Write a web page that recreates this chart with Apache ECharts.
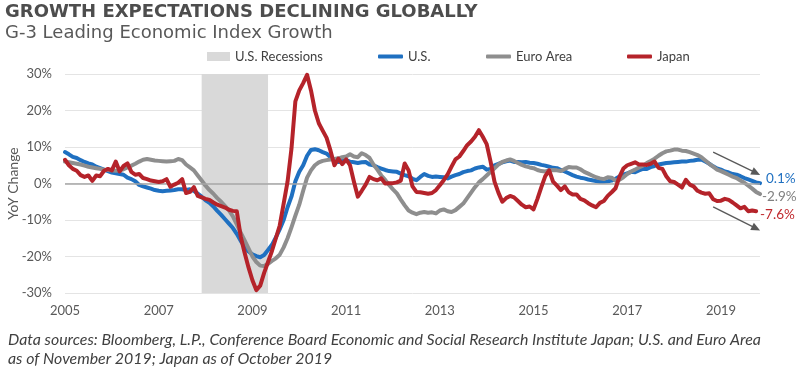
<!DOCTYPE html>
<html>
<head>
<meta charset="utf-8">
<script src="https://cdn.jsdelivr.net/npm/echarts@6/dist/echarts.min.js"></script>
<style>
html,body{margin:0;padding:0;background:#fff;}
#chart{width:800px;height:370px;}
</style>
</head>
<body>
<div id="chart"></div>
<script>
// ---------- DATA ----------
const startYear = 2005;
const monthCount = 179; // Jan 2005 .. Nov 2019
const categories = [];
for (let i = 0; i < monthCount; i++) {
  const y = startYear + Math.floor(i / 12);
  const m = (i % 12) + 1;
  categories.push(y + '-' + (m < 10 ? '0' + m : m));
}
const tickYears = ['2005', '2007', '2009', '2011', '2013', '2015', '2017', '2019'];

const usData = [
  8.6, 8.0, 7.3, 7.0, 6.4, 5.9, 5.5, 5.2, 4.6, 4.2, 3.8, 3.4,
  3.0, 2.8, 2.6, 2.4, 1.6, 1.2, 0.6, -0.4, -0.8, -1.1, -1.4, -1.8,
  -2.0, -2.1, -2.0, -1.9, -1.8, -1.6, -1.6, -1.8, -1.6, -2.0, -2.8, -3.6,
  -4.6, -5.3, -6.3, -7.5, -8.6, -9.8, -11.0, -12.2, -13.8, -15.7, -17.3, -18.6,
  -19.4, -19.9, -20.2, -19.6, -18.2, -16.8, -14.8, -12.5, -10.0, -6.5, -3.6, 0.6,
  3.2, 5.0, 7.6, 9.2, 9.4, 9.1, 8.6, 8.2, 7.2, 6.6, 5.9, 6.2,
  6.4, 6.0, 5.8, 5.6, 5.8, 5.9, 5.2, 5.0, 4.5, 4.1, 3.7, 3.4,
  3.3, 3.2, 2.7, 2.3, 2.0, 1.3, 0.9, 1.8, 2.6, 2.1, 1.8, 1.9,
  1.8, 1.7, 1.4, 1.9, 2.3, 2.6, 3.1, 3.4, 3.6, 4.1, 4.4, 4.6,
  3.8, 4.0, 5.0, 5.4, 5.8, 6.1, 6.3, 5.9, 5.9, 5.8, 5.9, 5.7,
  5.6, 5.4, 5.1, 4.9, 4.6, 4.3, 4.2, 3.7, 3.3, 2.8, 2.3, 1.9,
  1.6, 1.4, 1.1, 0.9, 0.7, 0.5, 0.5, 0.6, 0.8, 1.3, 1.9, 2.4,
  2.8, 3.2, 3.1, 3.6, 4.0, 4.0, 4.5, 4.8, 5.2, 5.4, 5.6, 5.7,
  5.8, 5.9, 6.0, 6.0, 6.2, 6.3, 6.5, 6.6, 6.0, 5.4, 4.7, 4.1,
  3.8, 3.3, 3.0, 2.6, 2.4, 2.0, 1.5, 1.1, 0.7, 0.3, 0.1
];
const euroData = [
  6.0, 5.8, 5.6, 5.4, 5.2, 4.9, 4.6, 4.4, 4.2, 4.0, 3.8, 3.7,
  3.6, 3.5, 3.6, 3.9, 4.4, 4.9, 5.4, 6.0, 6.5, 6.7, 6.5, 6.3,
  6.2, 6.1, 6.0, 6.1, 6.2, 6.7, 6.4, 5.2, 4.4, 3.6, 2.2, 0.8,
  -0.6, -1.8, -2.8, -4.0, -5.0, -6.2, -7.4, -9.0, -11.2, -13.5, -15.6, -17.8,
  -20.0, -21.5, -22.5, -22.6, -22.0, -21.2, -20.5, -19.5, -17.5, -15.0, -12.0, -8.8,
  -5.8, -2.0, 1.6, 3.6, 5.0, 5.8, 6.2, 6.4, 6.6, 6.7, 6.9, 7.2,
  7.4, 8.0, 7.4, 7.2, 8.3, 7.8, 7.0, 5.2, 3.8, 2.2, 1.0, -0.4,
  -1.6, -2.7, -4.4, -6.0, -7.4, -8.0, -8.4, -8.0, -7.8, -8.0, -7.9, -8.2,
  -7.4, -7.1, -7.6, -7.8, -7.3, -6.4, -5.5, -4.0, -2.5, -1.0, 0.3, 1.2,
  2.2, 3.2, 4.2, 5.2, 5.9, 6.3, 6.6, 6.2, 5.6, 5.1, 4.7, 4.4,
  4.2, 3.7, 3.4, 3.3, 3.6, 3.7, 3.6, 3.4, 4.0, 4.5, 4.4, 4.4,
  3.9, 3.2, 2.7, 2.2, 1.7, 1.4, 1.2, 1.7, 1.6, 0.8, 1.0, 1.7,
  2.6, 3.3, 3.8, 4.4, 4.9, 5.6, 6.2, 6.8, 7.6, 8.3, 8.8, 9.0,
  9.3, 9.3, 9.0, 8.9, 8.6, 8.2, 7.8, 7.2, 6.3, 5.4, 4.6, 3.8,
  3.4, 2.9, 2.4, 1.9, 1.5, 0.8, 0.2, -0.6, -1.4, -2.3, -2.9
];
const japanData = [
  6.5, 5.0, 4.0, 3.5, 2.3, 1.8, 2.2, 0.7, 2.2, 2.0, 3.5, 4.0,
  3.6, 6.0, 3.3, 4.8, 5.5, 3.2, 2.4, 2.6, 1.5, 1.2, 0.8, 0.6,
  0.4, 0.6, 1.2, -0.9, -0.3, 0.2, 1.2, -2.6, -2.3, -1.0, -3.4, -3.8,
  -4.2, -4.5, -5.2, -5.8, -6.2, -6.6, -7.2, -7.5, -7.6, -14.5, -19.0, -23.0,
  -26.5, -29.2, -28.0, -24.5, -21.5, -18.5, -15.0, -11.5, -5.5, 0.5, 9.5, 22.5,
  25.5, 27.5, 29.8, 25.5, 20.0, 16.5, 14.5, 12.5, 9.0, 5.0, 6.8, 5.3,
  6.6, 5.0, 0.5, -3.6, -2.0, -0.3, 1.8, 1.2, 0.9, 1.4, 0.0, 0.1,
  0.1, 0.3, 0.8, 5.5, 3.6, -0.8, -2.3, -2.4, -2.6, -2.8, -2.6, -1.8,
  -0.5, 0.9, 2.5, 4.6, 6.6, 7.4, 8.9, 10.5, 11.5, 12.8, 14.6, 12.8,
  10.8, 6.0, 0.5, -2.5, -5.0, -4.0, -3.4, -3.8, -4.8, -5.8, -6.5, -6.3,
  -7.1, -4.2, -1.0, 2.0, 3.6, 0.5, -0.6, -1.8, -0.8, -2.4, -3.0, -3.0,
  -4.2, -4.6, -5.4, -6.0, -6.5, -5.3, -4.8, -3.4, -2.4, -1.3, 1.8, 4.1,
  5.0, 5.4, 5.8, 5.2, 5.2, 5.1, 5.4, 6.0, 4.3, 4.0, 2.0, 0.6,
  0.4, -0.3, -1.1, 1.0, -0.3, -0.8, -2.0, -2.5, -2.8, -2.7, -4.3, -4.8,
  -4.7, -4.2, -4.5, -5.2, -6.0, -6.8, -6.4, -7.6, -7.4, -7.6
];
const recession = ['2007-12', '2009-05'];
const arrows = [
  [['2018-11', 8.6], ['2019-10', 2.9]],
  [['2018-11', -6.4], ['2019-10', -12.3]]
];
const seriesNames = ['U.S.', 'Euro Area', 'Japan'];
const recessionName = 'U.S. Recessions';
const titleText = 'GROWTH EXPECTATIONS DECLINING GLOBALLY';
const subtitleText = 'G-3 Leading Economic Index Growth';
const footnoteText = 'Data sources: Bloomberg, L.P., Conference Board Economic and Social Research Institute Japan; U.S. and Euro Area\nas of November 2019; Japan as of October 2019';

// ---------- STYLE ----------
const colors = ['#1f70c1', '#8e8e8e', '#b5232a'];
const labelColors = ['#1f70c1', '#808080', '#c0282d'];
const labelOffsets = [[3, -4], [-1, 3], [1, 3]];
const FONT = 'Lato, "Open Sans", sans-serif';

const chart = echarts.init(document.getElementById('chart'), null, {renderer: 'canvas'});

function lineSeries(i, data) {
  return {
    name: seriesNames[i],
    type: 'line',
    data: data,
    showSymbol: false,
    symbol: 'none',
    lineStyle: {color: colors[i], width: 4, join: 'round', cap: 'round'},
    itemStyle: {color: colors[i]},
    z: 3 + i,
    endLabel: {
      show: true,
      formatter: p => p.value.toFixed(1) + '%',
      color: labelColors[i],
      fontFamily: FONT,
      fontSize: 13.5,
      distance: 3,
      offset: labelOffsets[i]
    },
    animation: false
  };
}

const legendBase = {
  top: 50,
  padding: 0,
  itemHeight: 4,
  itemWidth: 25,
  icon: 'roundRect',
  textStyle: {color: '#404040', fontFamily: FONT, fontSize: 13},
  selectedMode: false
};

chart.setOption({
  animation: false,
  title: [
    {text: titleText, left: 5, top: 2, padding: 0,
     textStyle: {fontFamily: '"DejaVu Sans", sans-serif', fontWeight: 'bold', fontSize: 18, lineHeight: 20, color: '#4d4d4d'}},
    {text: subtitleText, left: 5, top: 23, padding: 0,
     textStyle: {fontFamily: '"DejaVu Sans", sans-serif', fontWeight: 'normal', fontSize: 18, lineHeight: 20, color: '#595959'}},
    {text: footnoteText, left: 8, top: 330, padding: 0,
     textStyle: {fontFamily: FONT, fontStyle: 'italic', fontWeight: 'normal', fontSize: 15.9, lineHeight: 19, color: '#404040'}}
  ],
  legend: [
    Object.assign({}, legendBase, {data: [{name: recessionName, icon: 'rect'}], left: 207, top: 50, itemWidth: 23, itemHeight: 9}),
    Object.assign({}, legendBase, {data: [seriesNames[0]], left: 378}),
    Object.assign({}, legendBase, {data: [seriesNames[1]], left: 486}),
    Object.assign({}, legendBase, {data: [seriesNames[2]], left: 627})
  ],
  grid: {left: 65, right: 40, top: 74, bottom: 77, containLabel: false, outerBoundsMode: 'none'},
  xAxis: {
    type: 'category',
    data: categories,
    boundaryGap: false,
    axisLine: {show: false},
    axisTick: {show: false},
    splitLine: {show: false},
    axisLabel: {
      interval: (i, v) => v.slice(5) === '01' && tickYears.indexOf(v.slice(0, 4)) >= 0,
      formatter: v => v.slice(0, 4),
      color: '#595959',
      fontFamily: FONT,
      fontSize: 13,
      margin: 11
    }
  },
  yAxis: {
    type: 'value',
    min: -30, max: 30, interval: 10,
    name: 'YoY Change',
    nameLocation: 'middle',
    nameGap: 45,
    nameMoveOverlap: false,
    nameTextStyle: {color: '#595959', fontFamily: FONT, fontSize: 14},
    axisLine: {show: false},
    axisTick: {show: false},
    axisLabel: {formatter: '{value}%', color: '#595959', fontFamily: FONT, fontSize: 13, margin: 13},
    splitLine: {lineStyle: {color: '#e4e4e4', width: 1}}
  },
  series: [
    {
      name: recessionName,
      type: 'line',
      data: [],
      symbol: 'none',
      itemStyle: {color: '#d9d9d9'},
      lineStyle: {color: '#d9d9d9'},
      markArea: {
        silent: true,
        itemStyle: {color: '#d9d9d9'},
        data: [[{xAxis: categories.indexOf(recession[0])}, {xAxis: categories.indexOf(recession[1])}]]
      },
      markLine: {
        silent: true,
        symbol: 'none',
        label: {show: false},
        lineStyle: {color: '#a6a6a6', width: 1.5, type: 'solid'},
        data: [{yAxis: 0}]
      },
      z: 1
    },
    lineSeries(0, usData),
    lineSeries(1, euroData),
    lineSeries(2, japanData),
    {
      name: 'arrows',
      type: 'line',
      data: [],
      markLine: {
        silent: true,
        symbol: ['none', 'triangle'],
        symbolSize: [8, 9],
        label: {show: false},
        lineStyle: {color: '#595959', width: 1.3, type: 'solid'},
        data: arrows.map(a => [{coord: a[0]}, {coord: a[1]}])
      },
      z: 10
    }
  ]
});
</script>
</body>
</html>
